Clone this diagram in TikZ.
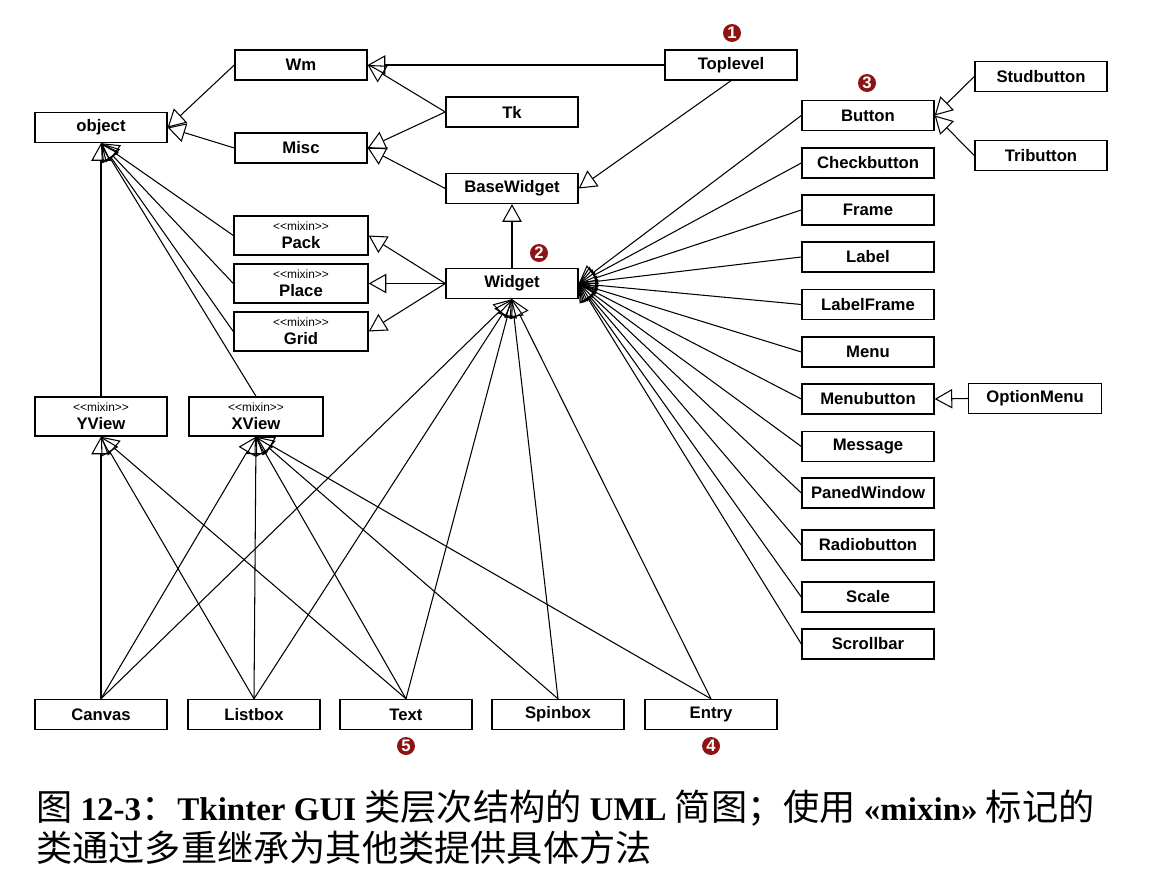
\documentclass[tikz,border=0pt]{standalone}
\usepackage{fontspec}
\setmainfont{Liberation Sans}
\newfontfamily\capfont{Liberation Serif}
\newfontfamily\cjk{Noto Sans CJK SC}
\usetikzlibrary{arrows.meta}
\definecolor{numred}{RGB}{140,20,20}

\tikzset{
  cls/.style={draw, line width=0.8pt, minimum width=2.64cm, minimum height=0.6cm,
    inner sep=0pt, font=\bfseries\fontsize{9.5}{11}\selectfont},
  mixin/.style={cls, minimum width=2.68cm, minimum height=0.78cm, align=center},
  isa/.style={line width=0.6pt, -{Triangle[open, length=10pt, width=11pt]}},
  numdot/.style={circle, fill=numred, text=white, inner sep=0pt, minimum size=0.36cm,
    font=\bfseries\fontsize{9.5}{9.5}\selectfont},
}
\newcommand{\stereo}{{\mdseries\fontsize{6.8}{8}\selectfont <{}<mixin>{}>}}
\newcommand{\capbf}[1]{{\capfont\bfseries\fontsize{18.8}{24}\selectfont #1}}

\begin{document}
\begin{tikzpicture}[x=0.02cm, y=-0.02cm]
    \useasboundingbox (0,0) rectangle (1163,882);

    % base classes
    \node[cls] (obj) at (101,127.5) {object};
    \node[cls] (wm) at (301,65) {Wm};
    \node[cls] (misc) at (301,148) {Misc};
    \node[cls] (tk) at (512,112) {Tk};
    \node[cls] (basew) at (512,188.5) {BaseWidget};
    \node[cls] (toplevel) at (731,65) {Toplevel};
    \node[cls] (widget) at (512,283.5) {Widget};

    % mixins
    \node[mixin] (pack) at (301,235.5) {\stereo\\[-0.5pt]Pack};
    \node[mixin] (place) at (301,283.5) {\stereo\\[-0.5pt]Place};
    \node[mixin] (grid) at (301,331.5) {\stereo\\[-0.5pt]Grid};
    \node[mixin, minimum width=2.64cm] (yview) at (101,416.5) {\stereo\\[-0.5pt]YView};
    \node[mixin] (xview) at (256,416.5) {\stereo\\[-0.5pt]XView};

    % widgets on the right
    \node[cls] (button) at (868,115.5) {Button};
    \node[cls] (checkbutton) at (868,163) {Checkbutton};
    \node[cls] (frame) at (868,210) {Frame};
    \node[cls] (label) at (868,257) {Label};
    \node[cls] (labelframe) at (868,304.5) {LabelFrame};
    \node[cls] (menu) at (868,352) {Menu};
    \node[cls] (menubutton) at (868,399) {Menubutton};
    \node[cls] (message) at (868,446.5) {Message};
    \node[cls] (panedwindow) at (868,493) {PanedWindow};
    \node[cls] (radiobutton) at (868,545) {Radiobutton};
    \node[cls] (scale) at (868,597) {Scale};
    \node[cls] (scrollbar) at (868,644) {Scrollbar};
    \node[cls] (studbutton) at (1041,76.5) {Studbutton};
    \node[cls] (tributton) at (1041,155.5) {Tributton};
    \node[cls, minimum width=2.66cm] (optionmenu) at (1035,398.5) {OptionMenu};

    % widgets at the bottom
    \node[cls] (canvas) at (101,714.5) {Canvas};
    \node[cls] (listbox) at (254,714.5) {Listbox};
    \node[cls] (text) at (406,714.5) {Text};
    \node[cls] (spinbox) at (558,714.5) {Spinbox};
    \node[cls] (entry) at (711,714.5) {Entry};

    % numbered marks
    \node[numdot] (n1) at (732,33) {1};
    \node[numdot] (n2) at (539,253) {2};
    \node[numdot] (n3) at (867,83) {3};
    \node[numdot] (n4) at (711,746) {4};
    \node[numdot] (n5) at (406,746) {5};

    % inheritance, top part
    \draw[isa] (wm.west) -- (obj.east);
    \draw[isa] (misc.west) -- (obj.east);
    \draw[isa] (toplevel.west) -- (wm.east);
    \draw[isa] (tk.west) -- (wm.east);
    \draw[isa] (tk.west) -- (misc.east);
    \draw[isa] (basew.west) -- (misc.east);
    \draw[isa] (toplevel.south) -- (basew.east);
    \draw[isa] (widget.north) -- (basew.south);
    \draw[isa] (widget.west) -- (pack.east);
    \draw[isa] (widget.west) -- (place.east);
    \draw[isa] (widget.west) -- (grid.east);
    \draw[isa] (pack.west) -- (obj.south);
    \draw[isa] (place.west) -- (obj.south);
    \draw[isa] (grid.west) -- (obj.south);
    \draw[isa] (yview.north) -- (obj.south);
    \draw[isa] (xview.north) -- (obj.south);

    % inheritance, right column
    \draw[isa] (button.west) -- (widget.east);
    \draw[isa] (checkbutton.west) -- (widget.east);
    \draw[isa] (frame.west) -- (widget.east);
    \draw[isa] (label.west) -- (widget.east);
    \draw[isa] (labelframe.west) -- (widget.east);
    \draw[isa] (menu.west) -- (widget.east);
    \draw[isa] (menubutton.west) -- (widget.east);
    \draw[isa] (message.west) -- (widget.east);
    \draw[isa] (panedwindow.west) -- (widget.east);
    \draw[isa] (radiobutton.west) -- (widget.east);
    \draw[isa] (scale.west) -- (widget.east);
    \draw[isa] (scrollbar.west) -- (widget.east);
    \draw[isa] (studbutton.west) -- (button.east);
    \draw[isa] (tributton.west) -- (button.east);
    \draw[isa] (optionmenu.west) -- (menubutton.east);

    % inheritance, bottom row
    \draw[isa] (canvas.north) -- (yview.south);
    \draw[isa] (canvas.north) -- (xview.south);
    \draw[isa] (canvas.north) -- (widget.south);
    \draw[isa] (listbox.north) -- (yview.south);
    \draw[isa] (listbox.north) -- (xview.south);
    \draw[isa] (listbox.north) -- (widget.south);
    \draw[isa] (text.north) -- (yview.south);
    \draw[isa] (text.north) -- (xview.south);
    \draw[isa] (text.north) -- (widget.south);
    \draw[isa] (spinbox.north) -- (xview.south);
    \draw[isa] (spinbox.north) -- (widget.south);
    \draw[isa] (entry.north) -- (xview.south);
    \draw[isa] (entry.north) -- (widget.south);

    % caption
    \node[anchor=west, inner sep=0pt, font=\fontsize{20.6}{24}\selectfont] (cap1) at (36,808)
      {\cjk 图 \capbf{12-3}：\capbf{Tkinter GUI} 类层次结构的 \capbf{UML} 简图；使用 \capbf{«mixin»} 标记的};
    \node[anchor=west, inner sep=0pt, font=\fontsize{20.6}{24}\selectfont] (cap2) at (36,848)
      {\cjk 类通过多重继承为其他类提供具体方法};
\end{tikzpicture}
\end{document}
